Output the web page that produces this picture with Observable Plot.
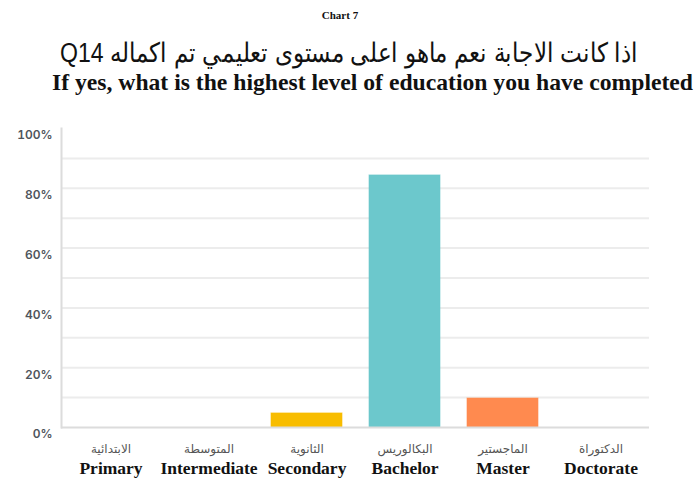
<!DOCTYPE html>
<html>
<head>
<meta charset="utf-8">
<script src="https://cdn.jsdelivr.net/npm/d3@7"></script>
<script src="https://cdn.jsdelivr.net/npm/@observablehq/plot@0.6"></script>
<style>
  html, body { margin: 0; padding: 0; background: #fff; }
  #wrap { width: 697px; height: 479px; position: relative; overflow: hidden; }
  #titles { position: relative; width: 697px; height: 110px; }
  .t { position: absolute; white-space: nowrap; line-height: 1; }
  #chartno { font-family: "Liberation Serif", serif; font-weight: bold; font-size: 11px; left: 0; width: 680px; text-align: center; top: 10px; color: #111; }
  #ar { font-family: "Liberation Sans", Arial, sans-serif; font-size: 27px; top: 40px; left: 60px; color: #111; direction: rtl; transform-origin: 0 0; }
  #en { font-family: "Liberation Serif", serif; font-weight: bold; font-size: 24px; top: 70px; left: 52px; color: #111; transform-origin: 0 0; }
</style>
</head>
<body>
<div id="wrap">
  <div id="titles">
    <div class="t" id="chartno">Chart 7</div>
    <div class="t" id="ar">اذا كانت الاجابة نعم ماهو اعلى مستوى تعليمي تم اكماله Q14</div>
    <div class="t" id="en">If yes, what is the highest level of education you have completed</div>
  </div>
  <div id="chart"></div>
</div>
<script>
const categoriesEn = ["Primary", "Intermediate", "Secondary", "Bachelor", "Master", "Doctorate"];
const categoriesAr = ["الابتدائية", "المتوسطة", "الثانوية", "البكالوريس", "الماجستير", "الدكتوراة"];
const shares = [0, 0, 0.047, 0.843, 0.097, 0];
const barColors = ["#f8bd00", "#f8bd00", "#f8bd00", "#6cc8cc", "#ff8a4f", "#ff8a4f"];
const yTicks = [0, 0.2, 0.4, 0.6, 0.8, 1];
const gridLines = [0.1, 0.2, 0.3, 0.4, 0.5, 0.6, 0.7, 0.8, 0.9];

const data = categoriesEn.map((en, i) => ({en, ar: categoriesAr[i], value: shares[i], color: barColors[i]}));

function fit(id, target) {
  const el = document.getElementById(id);
  const w = el.getBoundingClientRect().width;
  el.style.transform = `scaleX(${target / w})`;
}
fit("ar", 578);
fit("en", 641);

const chart = Plot.plot({
  width: 697,
  height: 369,
  marginTop: 18,
  marginBottom: 52,
  marginLeft: 61,
  marginRight: 48,
  x: {domain: categoriesEn, paddingInner: 0.28, paddingOuter: 0.14, axis: null},
  y: {domain: [0, 1], axis: null},
  marks: [
    Plot.ruleY(gridLines, {stroke: "#ececec", strokeWidth: 2}),
    Plot.frame({anchor: "left", stroke: "#dcdcdc", strokeWidth: 2}),
    Plot.barY(data, {x: "en", y: "value", fill: "color", stroke: "color", strokeOpacity: 0.6}),
    Plot.ruleY([0], {stroke: "#dcdcdc", strokeWidth: 2}),
    Plot.axisY(yTicks, {
      label: null, tickSize: 0, tickPadding: 9, dy: 7,
      tickFormat: d => `${Math.round(d * 100)}%`,
      fontFamily: "Inter, Lato, sans-serif", fontWeight: 600, fontSize: 12, fill: "#4f555c"
    }),
    Plot.text(data, {
      x: "en", text: "ar", frameAnchor: "bottom", dy: 25,
      fontFamily: "Noto Sans, DejaVu Sans, sans-serif", fontSize: 12, fill: "#555"
    }),
    Plot.text(data, {
      x: "en", text: "en", frameAnchor: "bottom", dy: 46,
      fontFamily: "Liberation Serif, serif", fontWeight: "bold", fontSize: 17.5, fill: "#111"
    })
  ]
});
document.getElementById("chart").appendChild(chart);
</script>
</body>
</html>
